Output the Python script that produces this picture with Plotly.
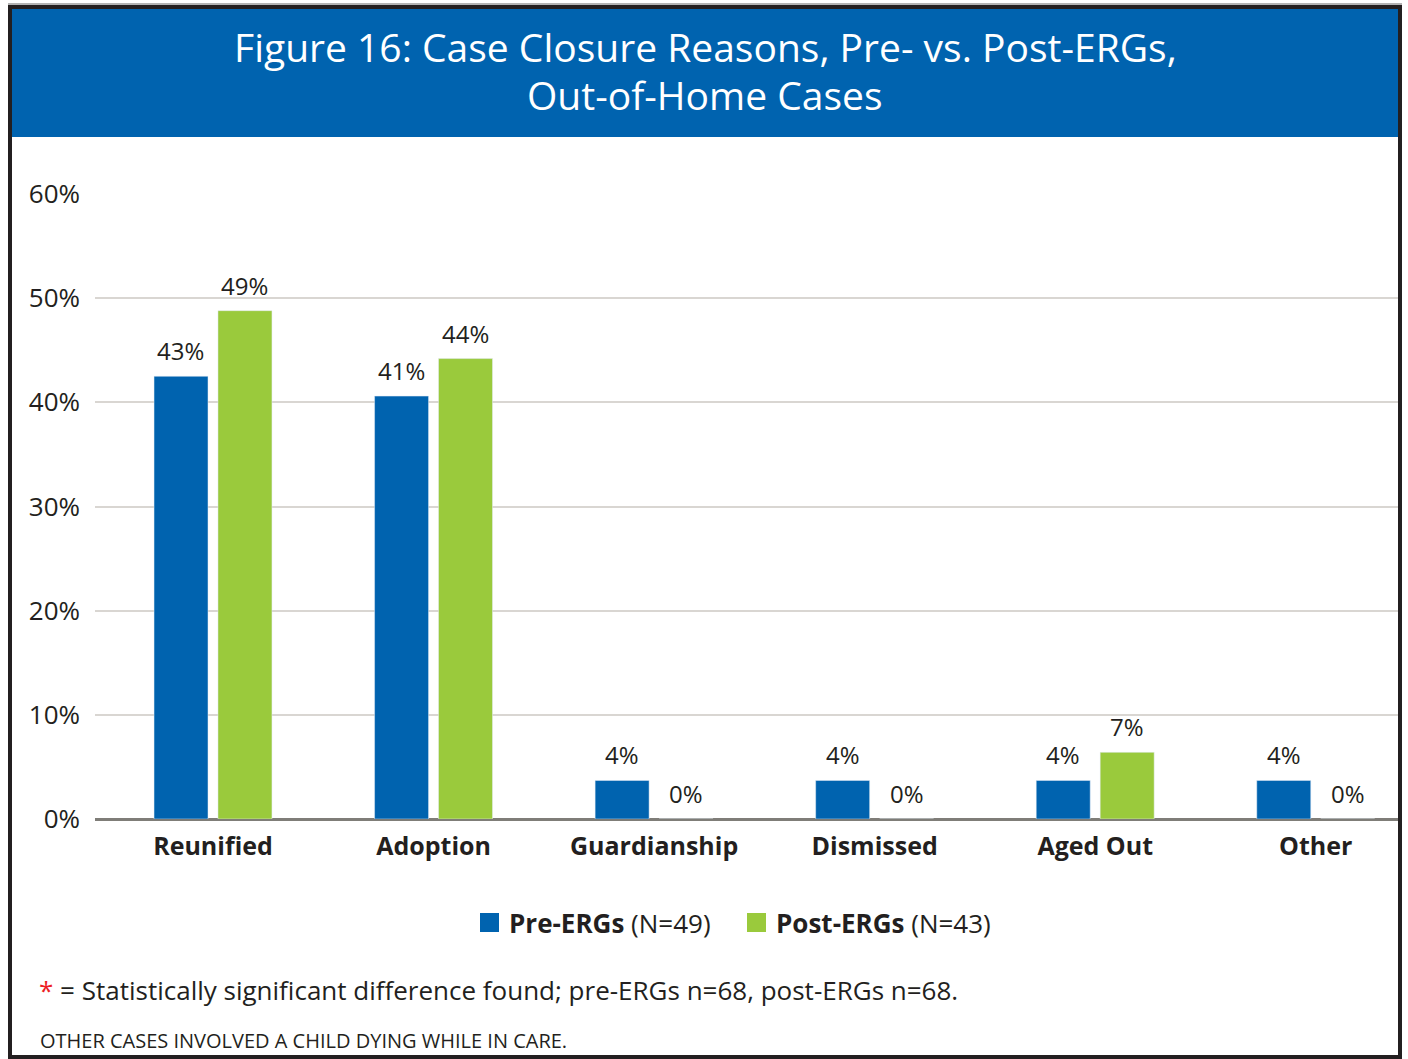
import plotly.graph_objects as go

# ---- data ----
categories = ["Reunified", "Adoption", "Guardianship", "Dismissed", "Aged Out", "Other"]
pre_values = [42.5, 40.6, 3.7, 3.7, 3.7, 3.7]
post_values = [48.8, 44.2, 0, 0, 6.4, 0]
pre_labels = ["43%", "41%", "4%", "4%", "4%", "4%"]
post_labels = ["49%", "44%", "0%", "0%", "7%", "0%"]
series_names = ["Pre-ERGs", "Post-ERGs"]
series_n = ["(N=49)", "(N=43)"]
y_ticks = [0, 10, 20, 30, 40, 50, 60]
title_lines = ["Figure 16: Case Closure Reasons, Pre- vs. Post-ERGs,", "Out-of-Home Cases"]
footnote = " = Statistically significant difference found; pre-ERGs n=68, post-ERGs n=68."
note2 = "OTHER CASES INVOLVED A CHILD DYING WHILE IN CARE."

# ---- style ----
W, H = 1408, 1059
ML, MR, MT, MB = 95, 10, 194, 240
BLUE = "#0063AF"
GREEN = "#9ACA3C"
TXT = "#231F20"
FONT = "Open Sans"
GROUP_OFFSET_PX = 32  # half of bar slot width


def px(x):
    return (x - ML) / (W - ML - MR)


def py(y):
    return (H - MB - y) / (H - MT - MB)


fig = go.Figure()
fig.add_trace(go.Bar(x=categories, y=pre_values, name=series_names[0], marker_color=BLUE,
                     showlegend=False))
fig.add_trace(go.Bar(x=categories, y=post_values, name=series_names[1], marker_color=GREEN,
                     showlegend=False))

shapes = [
    dict(type="rect", xref="paper", yref="paper", x0=px(12), x1=px(1398), y0=py(137), y1=py(9),
         fillcolor=BLUE, line=dict(width=0), layer="below"),
    dict(type="line", xref="paper", yref="paper", x0=px(8), x1=px(1402), y0=py(4), y1=py(4),
         line=dict(width=1.5, color="#9A9A9A"), layer="above"),
    dict(type="rect", xref="paper", yref="paper", x0=px(10), x1=px(1400), y0=py(1057), y1=py(7),
         fillcolor="rgba(0,0,0,0)", line=dict(width=4, color=TXT), layer="above"),
]

annotations = [
    dict(text=title_lines[0], x=px(705), y=py(47), xref="paper", yref="paper", showarrow=False,
         xanchor="center", yanchor="middle", font=dict(size=39, color="white", family=FONT)),
    dict(text=title_lines[1], x=px(705), y=py(94), xref="paper", yref="paper", showarrow=False,
         xanchor="center", yanchor="middle", font=dict(size=39, color="white", family=FONT)),
    dict(text="<span style='color:#ED1C24'>*</span>" + footnote, x=px(37), y=py(990),
         xref="paper", yref="paper", showarrow=False, xanchor="left", yanchor="middle",
         font=dict(size=26, color=TXT, family=FONT)),
    dict(text=note2, x=px(38), y=py(1040), xref="paper", yref="paper", showarrow=False,
         xanchor="left", yanchor="middle", font=dict(size=20, color=TXT, family=FONT)),
]

# value labels above bars (data coordinates)
for vals, labs, sgn in ((pre_values, pre_labels, -1), (post_values, post_labels, 1)):
    for c, v, lab in zip(categories, vals, labs):
        annotations.append(dict(text=lab, x=c, y=v, xref="x", yref="y", showarrow=False,
                                xanchor="center", yanchor="bottom",
                                xshift=sgn * GROUP_OFFSET_PX, yshift=7,
                                font=dict(size=24, color=TXT, family=FONT)))

# manual legend
legend_items = [(BLUE, 480, 507), (GREEN, 747, 774)]
for (col, sx, tx), nm, n in zip(legend_items, series_names, series_n):
    shapes.append(dict(type="rect", xref="paper", yref="paper", x0=px(sx), x1=px(sx + 19),
                       y0=py(932), y1=py(913), fillcolor=col, line=dict(width=0)))
    annotations.append(dict(text=f"<b>{nm}</b> {n}", x=px(tx), y=py(923), xref="paper", yref="paper",
                            showarrow=False, xanchor="left", yanchor="middle",
                            font=dict(size=26, color=TXT, family=FONT)))

fig.update_layout(
    width=W, height=H,
    margin=dict(l=ML, r=MR, t=MT, b=MB, autoexpand=False),
    paper_bgcolor="white", plot_bgcolor="white",
    barmode="group", bargap=0.42, bargroupgap=0.156,
    font=dict(family=FONT, color=TXT),
    shapes=shapes, annotations=annotations,
    xaxis=dict(range=[-0.535, 5.373], showgrid=False, showline=False, ticks="",
               ticklabelstandoff=10, fixedrange=True,
               tickfont=dict(size=25, color=TXT, family=FONT),
               tickvals=categories, ticktext=[f"<b>{c}</b>" for c in categories]),
    yaxis=dict(range=[0, 60], tickvals=y_ticks, ticktext=[f"{v}%" for v in y_ticks], showgrid=True,
               gridcolor="#D9D6D2", gridwidth=2, zeroline=True, zerolinecolor="#7F7D78",
               zerolinewidth=3, showline=False, ticks="", ticklabelstandoff=14, fixedrange=True,
               tickfont=dict(size=26, color=TXT, family=FONT)),
    showlegend=False,
)

fig.write_html("out.html", config={"displayModeBar": False},
               post_script="document.body.style.margin='0';document.body.style.overflow='hidden';")
